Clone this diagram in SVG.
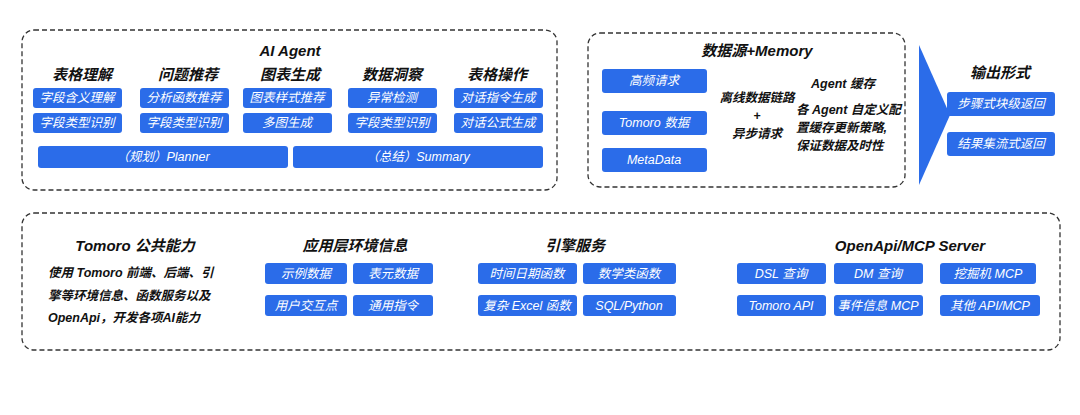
<svg xmlns="http://www.w3.org/2000/svg" width="1080" height="415" viewBox="0 0 1080 415">
<style>
text{font-family:"Liberation Sans","Noto Sans CJK SC",sans-serif;font-style:italic;text-anchor:middle;dominant-baseline:central}
.frame{fill:none;stroke:#333;stroke-width:1.3;stroke-dasharray:5 3}
.b{fill:#2B6CE9;rx:3}
.bt{fill:#fff;font-size:12.5px}
.h{fill:#111;font-size:15px;font-weight:bold}
.t{fill:#111;font-size:12.5px;font-weight:bold}
</style>
<rect width="1080" height="415" fill="#fff"/>
<g id="ai-agent">
<rect class="frame" x="22" y="30" width="535" height="160" rx="12"/>
<text class="h" x="290" y="50">AI Agent</text>
<text class="h" x="82" y="74">表格理解</text><text class="h" x="188" y="74">问题推荐</text><text class="h" x="290" y="74">图表生成</text><text class="h" x="392" y="74">数据洞察</text><text class="h" x="497" y="74">表格操作</text>
<rect class="b" x="33" y="88" width="89" height="20"/><text class="bt" x="77" y="98">字段含义理解</text>
<rect class="b" x="140" y="88" width="89" height="20"/><text class="bt" x="184" y="98">分析函数推荐</text>
<rect class="b" x="243" y="88" width="89" height="20"/><text class="bt" x="287" y="98">图表样式推荐</text>
<rect class="b" x="348" y="88" width="89" height="20"/><text class="bt" x="392" y="98">异常检测</text>
<rect class="b" x="454" y="88" width="89" height="20"/><text class="bt" x="498" y="98">对话指令生成</text>
<rect class="b" x="33" y="113" width="89" height="20"/><text class="bt" x="77" y="123">字段类型识别</text>
<rect class="b" x="140" y="113" width="89" height="20"/><text class="bt" x="184" y="123">字段类型识别</text>
<rect class="b" x="243" y="113" width="89" height="20"/><text class="bt" x="287" y="123">多图生成</text>
<rect class="b" x="348" y="113" width="89" height="20"/><text class="bt" x="392" y="123">字段类型识别</text>
<rect class="b" x="454" y="113" width="89" height="20"/><text class="bt" x="498" y="123">对话公式生成</text>
<rect class="b" x="38" y="146" width="250" height="22"/><text class="bt" x="163" y="157">（规划）Planner</text>
<rect class="b" x="293" y="146" width="250" height="22"/><text class="bt" x="418" y="157">（总结）Summary</text>
</g>
<g id="datasource">
<rect class="frame" x="588" y="33" width="317" height="154" rx="12"/>
<text class="h" x="757" y="50">数据源+Memory</text>
<rect class="b" x="602" y="69" width="105" height="24"/><text class="bt" x="654" y="81">高频请求</text>
<rect class="b" x="602" y="111" width="105" height="24"/><text class="bt" x="654" y="123">Tomoro 数据</text>
<rect class="b" x="602" y="148" width="105" height="24"/><text class="bt" x="654" y="160">MetaData</text>
<text class="t" x="757" y="98">离线数据链路</text><text class="t" x="757" y="116">+</text><text class="t" x="757" y="134">异步请求</text>
<text class="t" x="843" y="84">Agent 缓存</text>
<text class="t" x="796" y="110" style="text-anchor:start">各 Agent 自定义配</text>
<text class="t" x="796" y="128" style="text-anchor:start">置缓存更新策略,</text>
<text class="t" x="796" y="146" style="text-anchor:start">保证数据及时性</text>
</g>
<g id="connectors"><polygon points="919,45 950,115 919,185" fill="#2B6CE9"/></g>
<g id="output">
<text class="h" x="1000" y="72">输出形式</text>
<rect class="b" x="947" y="92" width="108" height="24"/><text class="bt" x="1001" y="104">步骤式块级返回</text>
<rect class="b" x="947" y="132" width="108" height="24"/><text class="bt" x="1001" y="144">结果集流式返回</text>
</g>
<g id="public">
<rect class="frame" x="22" y="213" width="1038" height="137" rx="12"/>
<text class="h" x="135" y="245">Tomoro 公共能力</text>
<text class="t" x="48" y="273" style="text-anchor:start">使用 Tomoro 前端、后端、引</text>
<text class="t" x="48" y="296" style="text-anchor:start">擎等环境信息、函数服务以及</text>
<text class="t" x="48" y="318" style="text-anchor:start">OpenApi，开发各项AI能力</text>
<text class="h" x="355" y="245">应用层环境信息</text>
<rect class="b" x="265" y="263" width="82" height="21"/><text class="bt" x="306" y="273.5">示例数据</text>
<rect class="b" x="353" y="263" width="80" height="21"/><text class="bt" x="393" y="273.5">表元数据</text>
<rect class="b" x="265" y="295" width="82" height="21"/><text class="bt" x="306" y="305.5">用户交互点</text>
<rect class="b" x="353" y="295" width="80" height="21"/><text class="bt" x="393" y="305.5">通用指令</text>
<text class="h" x="575" y="245">引擎服务</text>
<rect class="b" x="478" y="263" width="99" height="21"/><text class="bt" x="527" y="273.5">时间日期函数</text>
<rect class="b" x="583" y="263" width="93" height="21"/><text class="bt" x="629" y="273.5">数学类函数</text>
<rect class="b" x="478" y="295" width="99" height="21"/><text class="bt" x="527" y="305.5">复杂 Excel 函数</text>
<rect class="b" x="583" y="295" width="93" height="21"/><text class="bt" x="629" y="305.5">SQL/Python</text>
<text class="h" x="910" y="245">OpenApi/MCP Server</text>
<rect class="b" x="737" y="263" width="89" height="21"/><text class="bt" x="781" y="273.5">DSL 查询</text>
<rect class="b" x="834" y="263" width="89" height="21"/><text class="bt" x="878" y="273.5">DM 查询</text>
<rect class="b" x="940" y="263" width="96" height="21"/><text class="bt" x="988" y="273.5">挖掘机 MCP</text>
<rect class="b" x="737" y="295" width="89" height="21"/><text class="bt" x="781" y="305.5">Tomoro API</text>
<rect class="b" x="834" y="295" width="89" height="21"/><text class="bt" x="878" y="305.5">事件信息 MCP</text>
<rect class="b" x="940" y="295" width="100" height="21"/><text class="bt" x="990" y="305.5">其他 API/MCP</text>
</g>
</svg>
